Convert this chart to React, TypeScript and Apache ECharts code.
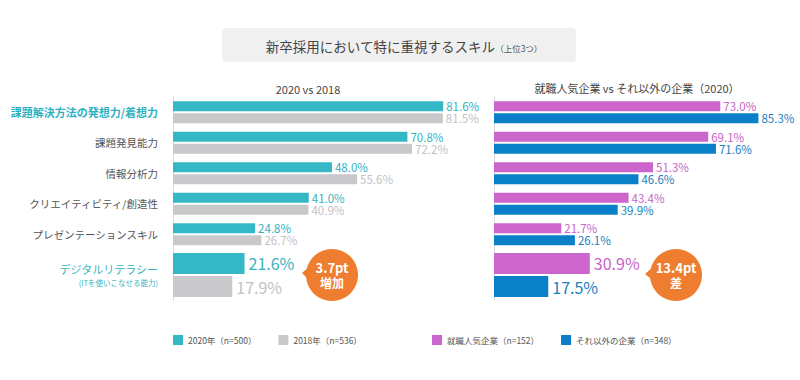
import React, { useEffect, useRef } from "react";
import * as echarts from "echarts";

const categories = [
  "課題解決方法の発想力/着想力",
  "課題発見能力",
  "情報分析力",
  "クリエイティビティ/創造性",
  "プレゼンテーションスキル",
  "デジタルリテラシー",
];
const values2020 = [81.6, 70.8, 48.0, 41.0, 24.8, 21.6];
const values2018 = [81.5, 72.2, 55.6, 40.9, 26.7, 17.9];
const popularCompanies = [73.0, 69.1, 51.3, 43.4, 21.7, 30.9];
const otherCompanies = [85.3, 71.6, 46.6, 39.9, 26.1, 17.5];
const seriesNames = ["2020年（n=500）", "2018年（n=536）", "就職人気企業（n=152）", "それ以外の企業（n=348）"];
const titleMain = "新卒採用において特に重視するスキル";
const titleSub = "（上位3つ）";
const leftSubtitle = "2020 vs 2018";
const rightSubtitle = "就職人気企業 vs それ以外の企業（2020）";
const calloutLeft = ["3.7pt", "増加"];
const calloutRight = ["13.4pt", "差"];
const itSubLabel = "(ITを使いこなせる能力)";

const FONT = '"Noto Sans CJK JP", "Noto Sans", sans-serif';
const TEAL = "#35b8c6";
const GREY = "#c9c9cb";
const PINK = "#cc66cc";
const BLUE = "#0a80c8";
const ORANGE = "#ee7d30";
const AXIS = "#dcdcdc";

const fmt = (p: any) => Number(p.value).toFixed(1) + "%";

function barSeries(name: string, data: number[], color: string, labelColor: string, gi: number, big: boolean) {
  return {
    name,
    type: "bar",
    xAxisIndex: gi,
    yAxisIndex: gi,
    data,
    barWidth: big ? 21 : 10,
    barGap: big ? "10%" : "20%",
    itemStyle: { color },
    label: {
      show: true,
      position: "right",
      distance: big ? 4 : 3,
      color: labelColor,
      fontSize: big ? 16 : 11.5,
      lineHeight: big ? 18 : 11,
      fontFamily: FONT,
      formatter: fmt,
    },
  };
}

export default function App() {
  const ref = useRef<HTMLDivElement>(null);
  useEffect(() => {
    if (!ref.current) return;
    const chart = echarts.init(ref.current, undefined, { renderer: "svg" });
    const gridBase = { outerBoundsMode: "none", containLabel: false };
    const grids = [
      { ...gridBase, left: 173, top: 97, width: 298, height: 152.5 },
      { ...gridBase, left: 173, top: 249.5, width: 298, height: 51 },
      { ...gridBase, left: 494, top: 97, width: 279, height: 152.5 },
      { ...gridBase, left: 494, top: 249.5, width: 279, height: 51 },
    ];
    const xAxes = grids.map((_, i) => ({ type: "value", gridIndex: i, min: 0, max: 90, show: false }));
    const baseY = {
      type: "category",
      inverse: true,
      axisTick: { show: false },
      axisLine: { show: true, lineStyle: { color: AXIS, width: 1 } },
      splitLine: { show: false },
    };
    const yAxes = [
      {
        ...baseY,
        gridIndex: 0,
        data: categories.slice(0, 5),
        axisLabel: {
          margin: 15,
          fontSize: 10.5,
          color: "#555",
          fontFamily: FONT,
          formatter: (v: string, i: number) => (i === 0 ? "{h|" + v + "}" : v),
          rich: { h: { fontSize: 11, fontWeight: "bold", color: "#2fb0be", fontFamily: FONT } },
        },
      },
      {
        ...baseY,
        gridIndex: 1,
        data: categories.slice(5),
        axisLabel: {
          margin: 15,
          fontFamily: FONT,
          formatter: (v: string) => "{a|" + v + "}\n{b|" + itSubLabel + "}",
          rich: {
            a: { fontSize: 11, color: "#35b5c3", lineHeight: 15, align: "right", fontFamily: FONT },
            b: { fontSize: 7.5, color: "#35b5c3", lineHeight: 12, align: "right", fontFamily: FONT },
          },
        },
      },
      { ...baseY, gridIndex: 2, data: categories.slice(0, 5), axisLabel: { show: false } },
      { ...baseY, gridIndex: 3, data: categories.slice(5), axisLabel: { show: false } },
    ];
    const series = [
      barSeries(seriesNames[0], values2020.slice(0, 5), TEAL, "#36b3c1", 0, false),
      barSeries(seriesNames[1], values2018.slice(0, 5), GREY, "#c2c2c4", 0, false),
      barSeries(seriesNames[0], values2020.slice(5), TEAL, "#36b3c1", 1, true),
      barSeries(seriesNames[1], values2018.slice(5), GREY, "#c2c2c4", 1, true),
      barSeries(seriesNames[2], popularCompanies.slice(0, 5), PINK, "#c765c7", 2, false),
      barSeries(seriesNames[3], otherCompanies.slice(0, 5), BLUE, "#1a7fc0", 2, false),
      barSeries(seriesNames[2], popularCompanies.slice(5), PINK, "#c765c7", 3, true),
      barSeries(seriesNames[3], otherCompanies.slice(5), BLUE, "#1a7fc0", 3, true),
    ];
    const legendBase = {
      top: 330,
      itemWidth: 10,
      itemHeight: 10,
      icon: "rect",
      itemGap: 22,
      textStyle: { fontSize: 8.5, color: "#555", fontFamily: FONT },
    };
    const callout = (cx: number, cy: number, tipX: number, tipY: number, lines: string[]) => ({
      type: "group",
      z: 100,
      children: [
        {
          type: "polygon",
          shape: { points: [[tipX, tipY], [cx - 22, cy - 9], [cx - 20, cy + 8]] },
          style: { fill: ORANGE },
        },
        { type: "circle", shape: { cx, cy, r: 26 }, style: { fill: ORANGE } },
        {
          type: "text",
          x: cx,
          y: cy - 8,
          style: { text: lines[0], fill: "#fff", fontSize: 13, fontWeight: "bold", fontFamily: FONT, align: "center", verticalAlign: "middle" },
        },
        {
          type: "text",
          x: cx,
          y: cy + 7,
          style: { text: lines[1], fill: "#fff", fontSize: 12, fontWeight: "bold", fontFamily: FONT, align: "center", verticalAlign: "middle" },
        },
      ],
    });
    const option: any = {
      animation: false,
      backgroundColor: "#fff",
      textStyle: { fontFamily: FONT },
      grid: grids,
      xAxis: xAxes,
      yAxis: yAxes,
      series,
      legend: [
        { ...legendBase, left: 168, data: [seriesNames[0], seriesNames[1]] },
        { ...legendBase, left: 427, data: [seriesNames[2], seriesNames[3]] },
      ],
      graphic: [
        { type: "rect", shape: { x: 222, y: 28, width: 354, height: 34, r: 4 }, style: { fill: "#f0f0f0" }, z: 0 },
        {
          type: "text",
          x: 404,
          y: 46,
          z: 1,
          style: {
            text: "{a|" + titleMain + "}{b|" + titleSub + "}",
            align: "center",
            verticalAlign: "middle",
            rich: {
              a: { fontSize: 13.5, fill: "#444", fontFamily: FONT },
              b: { fontSize: 8.5, fill: "#555", fontFamily: FONT, padding: [4, 0, 0, 0] },
            },
          },
        },
        {
          type: "text",
          x: 308,
          y: 89,
          style: { text: leftSubtitle, fontSize: 11, fill: "#444", fontFamily: FONT, align: "center", verticalAlign: "middle" },
        },
        {
          type: "text",
          x: 637,
          y: 88,
          style: { text: rightSubtitle, fontSize: 11, fill: "#444", fontFamily: FONT, align: "center", verticalAlign: "middle" },
        },
        {
          type: "group",
          z: 100,
          children: [
            { type: "line", shape: { x1: 213, y1: 283, x2: 232.5, y2: 266 }, style: { stroke: "#fff", lineWidth: 1.5 } },
            { type: "polygon", shape: { points: [[237, 262], [234.8, 268.5], [230.2, 263.3]] }, style: { fill: "#fff" } },
          ],
        },
        callout(332, 275, 302, 273, calloutLeft),
        callout(676, 275, 645, 274, calloutRight),
      ],
    };
    chart.setOption(option);
    return () => chart.dispose();
  }, []);
  return <div ref={ref} style={{ position: "fixed", left: 0, top: 0, width: 800, height: 380 }} />;
}
